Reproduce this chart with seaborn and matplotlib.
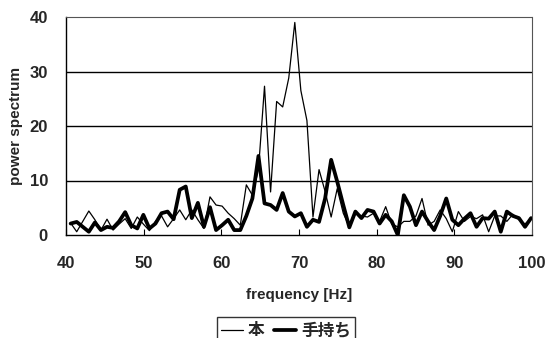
import numpy as np
import pandas as pd
import matplotlib
matplotlib.use("Agg")
import matplotlib.pyplot as plt
import seaborn as sns
from matplotlib.lines import Line2D

# frequency grid (Hz)
freq = np.round(40.6 + 0.78 * np.arange(77), 2)

# power spectrum, series "本" (thin line)
hon = [2.2, 0.6, 2.5, 4.4, 2.8, 0.9, 2.9, 0.9, 2.0, 3.0,
       1.2, 3.3, 2.0, 0.8, 2.5, 3.5, 1.5, 3.0, 4.6, 2.8,
       4.6, 2.8, 1.2, 7.0, 5.5, 5.3, 4.0, 3.0, 1.8, 9.2,
       7.3, 12.0, 27.3, 7.9, 24.5, 23.5, 28.8, 39.0, 26.5, 21.0,
       3.3, 12.0, 8.0, 3.3, 8.5, 4.0, 1.5, 4.0, 3.5, 3.3,
       4.0, 2.5, 5.2, 2.0, 1.5, 2.5, 2.5, 3.5, 6.7, 1.8,
       2.5, 4.6, 3.0, 0.6, 4.3, 2.5, 3.4, 3.0, 3.7, 0.6,
       3.5, 3.5, 2.5, 3.8, 2.8, 2.0, 3.0]

# power spectrum, series "手持ち" (thick line)
temochi = [2.1, 2.4, 1.5, 0.6, 2.3, 0.9, 1.5, 1.3, 2.5, 4.2,
           1.8, 1.2, 3.7, 1.2, 2.1, 4.0, 4.3, 2.9, 8.3, 8.9,
           3.1, 5.9, 1.5, 5.1, 0.9, 1.8, 2.8, 0.9, 0.9, 3.5,
           6.7, 14.5, 5.8, 5.5, 4.6, 7.7, 4.3, 3.4, 4.0, 1.5,
           2.8, 2.4, 6.7, 13.8, 9.8, 5.5, 1.4, 4.3, 3.1, 4.6,
           4.3, 2.1, 3.7, 2.5, 0.0, 7.3, 5.2, 1.8, 4.3, 2.5,
           0.9, 3.5, 6.7, 2.8, 1.8, 3.0, 4.0, 1.5, 3.1, 3.0,
           4.3, 0.6, 4.3, 3.5, 3.1, 1.5, 3.1]

series_names = ["本", "手持ち"]
x_ticks = [40, 50, 60, 70, 80, 90, 100]
y_ticks = [0, 10, 20, 30, 40]

df = pd.DataFrame({"freq": freq, "本": hon, "手持ち": temochi})

sns.set_theme(style="white")
plt.rcParams["font.family"] = ["Liberation Sans", "Noto Sans CJK JP", "DejaVu Sans"]

fig = plt.figure(figsize=(5.47, 3.38), dpi=100)
ax = fig.add_axes([66 / 547, 1 - 235 / 338, (532 - 66) / 547, (235 - 17) / 338])

for yv in [10, 20, 30]:
    ax.axhline(yv, color="black", lw=1.0, zorder=0)

sns.lineplot(data=df, x="freq", y="本", ax=ax, color="black", lw=0.9, zorder=3)
sns.lineplot(data=df, x="freq", y="手持ち", ax=ax, color="black", lw=2.7, zorder=2)

ax.set_xlim(40, 100)
ax.set_ylim(0, 40)
ax.set_xticks(x_ticks)
ax.set_yticks(y_ticks)
ax.set_xticklabels([str(t) for t in x_ticks], fontsize=12, fontweight="bold")
ax.set_yticklabels([str(t) for t in y_ticks], fontsize=12, fontweight="bold")
ax.tick_params(axis="x", direction="in", length=4, width=0.8, color="black", pad=15, bottom=True)
ax.tick_params(axis="y", length=0, pad=13)

ax.set_xlabel("frequency [Hz]", fontsize=11, fontweight="bold", labelpad=12)
ax.set_ylabel("power spectrum", fontsize=11, fontweight="bold", labelpad=5)

for side in ["left", "bottom"]:
    ax.spines[side].set_color("black")
    ax.spines[side].set_linewidth(1.0)
for side in ["top", "right"]:
    ax.spines[side].set_color("#555555")
    ax.spines[side].set_linewidth(0.8)
    ax.spines[side].set_linestyle((0, (1, 1)))

handles = [Line2D([], [], color="black", lw=0.9),
           Line2D([], [], color="black", lw=2.7)]
leg = fig.legend(handles, series_names, loc="upper center",
                 bbox_to_anchor=(286 / 547, 1 - 309 / 338), ncol=2,
                 frameon=True, fancybox=False, handlelength=1.3,
                 handletextpad=0.3, columnspacing=0.6, borderpad=0.25,
                 prop={"family": ["Noto Sans CJK JP"], "size": 12, "weight": "bold"})
leg.get_frame().set_edgecolor("black")
leg.get_frame().set_linewidth(1.0)

fig.savefig("out.png", dpi=100)
